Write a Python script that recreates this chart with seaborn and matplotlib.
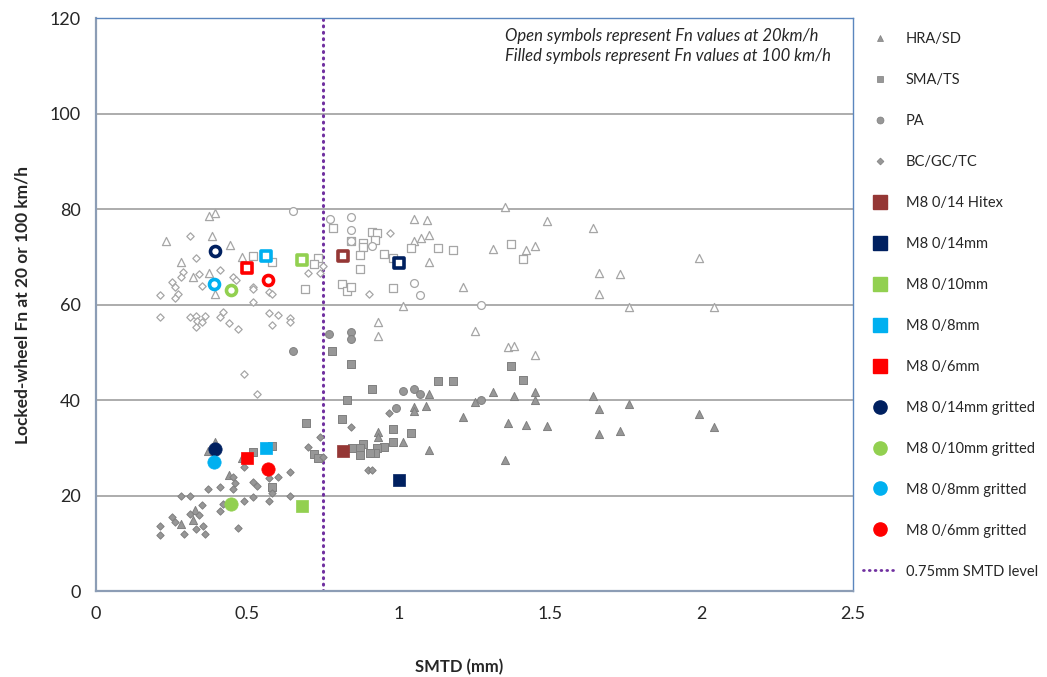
import matplotlib
matplotlib.use("Agg")
import matplotlib.pyplot as plt
from matplotlib.lines import Line2D
import seaborn as sns
import pandas as pd

# gray reference surfaces, open = 20 km/h, filled = 100 km/h
hra_open_x = [0.393, 0.372, 0.382, 0.231, 0.441, 0.481, 0.282, 0.321, 0.372, 0.393,
              1.051, 1.092, 1.101, 1.072, 1.051, 1.101, 1.013, 0.931, 0.931,
              1.352, 1.490, 1.640, 1.311, 1.421, 1.451, 1.211, 1.661, 1.732, 1.661,
              1.760, 1.990, 2.041, 1.250, 1.361, 1.380, 1.451]
hra_open_y = [79.2, 78.5, 74.4, 73.2, 72.5, 70.0, 68.8, 65.7, 66.5, 62.3,
              78.0, 77.8, 74.6, 73.9, 73.3, 69.0, 59.7, 56.4, 53.5,
              80.4, 77.5, 76.0, 71.6, 71.4, 72.3, 63.7, 66.5, 66.4, 62.2,
              59.5, 69.8, 59.5, 54.5, 51.2, 51.4, 49.4]
hra_fill_x = [0.393, 0.371, 0.481, 0.440, 0.327, 0.321, 0.280,
              1.101, 1.090, 1.051, 1.051, 0.931, 0.931, 1.013, 1.101,
              1.311, 1.381, 1.451, 1.451, 1.250, 1.640, 1.661, 1.760, 1.211,
              1.361, 1.421, 1.491, 1.661, 1.731, 1.990, 2.041, 1.352]
hra_fill_y = [31.3, 29.4, 27.8, 24.3, 17.0, 14.9, 14.0,
              41.3, 38.7, 38.5, 37.6, 33.4, 32.2, 31.3, 29.5,
              41.7, 40.8, 41.7, 40.0, 39.6, 40.8, 38.1, 39.2, 36.5,
              35.1, 34.8, 34.6, 32.9, 33.5, 37.0, 34.4, 27.4]

sma_open_x = [0.520, 0.581, 0.568, 0.690, 0.732, 0.721, 0.782, 0.811, 0.830, 0.841,
              0.910, 0.929, 0.921, 0.841, 0.881, 0.881, 0.872, 0.952, 0.980, 1.040,
              1.131, 1.180, 0.872, 0.980, 1.371, 1.409]
sma_open_y = [70.2, 68.8, 65.0, 63.2, 69.8, 68.4, 76.1, 64.3, 62.9, 63.7,
              75.2, 74.9, 73.5, 73.2, 72.9, 72.0, 70.4, 70.5, 69.7, 71.8,
              71.9, 71.4, 67.4, 63.4, 72.6, 69.5]
sma_fill_x = [0.520, 0.582, 0.582, 0.692, 0.721, 0.732, 0.781, 0.811, 0.828, 0.841,
              1.131, 1.180, 0.913, 0.980, 1.040, 0.980, 0.952, 0.929, 0.921, 0.905,
              0.881, 0.872, 0.872, 0.844, 1.371, 1.411]
sma_fill_y = [29.2, 30.4, 21.7, 35.1, 28.7, 27.8, 50.3, 36.0, 39.9, 47.5,
              44.0, 44.0, 42.4, 33.9, 33.0, 31.3, 30.1, 29.9, 29.0, 29.0,
              30.8, 29.9, 28.5, 29.9, 47.1, 44.2]

pa_open_x = [0.651, 0.773, 0.841, 0.841, 0.841, 0.910, 1.051, 1.070, 1.271]
pa_open_y = [79.6, 78.0, 78.4, 75.6, 73.2, 72.3, 64.6, 61.9, 60.0]
pa_fill_x = [0.651, 0.771, 0.841, 0.841, 1.013, 1.051, 1.070, 0.991, 1.271]
pa_fill_y = [50.3, 53.8, 54.3, 52.8, 41.9, 42.4, 41.3, 38.4, 40.0]

bc_open_x = [0.310, 0.330, 0.410, 0.288, 0.280, 0.341, 0.251, 0.261, 0.350, 0.272,
             0.260, 0.211, 0.451, 0.462, 0.520, 0.520, 0.520, 0.570, 0.581, 0.211,
             0.310, 0.330, 0.333, 0.360, 0.349, 0.330, 0.410, 0.420, 0.440, 0.470,
             0.570, 0.600, 0.581, 0.641, 0.641, 0.490, 0.531, 0.701, 0.740, 0.751,
             0.970, 0.901]
bc_open_y = [74.4, 69.8, 67.2, 66.9, 65.7, 66.4, 64.8, 63.7, 63.9, 62.2,
             61.3, 62.0, 65.7, 65.1, 63.7, 63.2, 60.6, 62.7, 62.3, 57.4,
             57.3, 57.6, 56.6, 57.6, 56.4, 55.2, 57.4, 58.5, 56.2, 54.8,
             58.2, 57.7, 55.7, 57.1, 56.4, 45.4, 41.3, 66.7, 66.7, 68.1,
             75.0, 62.3]
bc_fill_x = [0.969, 0.841, 0.740, 0.700, 0.751, 0.899, 0.910, 0.641, 0.490, 0.570,
             0.600, 0.520, 0.531, 0.451, 0.459, 0.451, 0.410, 0.371, 0.281, 0.310,
             0.350, 0.418, 0.410, 0.490, 0.520, 0.570, 0.581, 0.641, 0.251, 0.261,
             0.310, 0.341, 0.211, 0.211, 0.291, 0.330, 0.352, 0.361, 0.470]
bc_fill_y = [37.3, 34.3, 32.2, 30.1, 28.0, 25.3, 25.3, 25.0, 25.9, 23.6,
             23.8, 22.9, 22.0, 23.8, 22.6, 21.3, 21.7, 21.3, 19.9, 20.0,
             18.0, 18.2, 16.8, 18.9, 19.6, 18.9, 20.5, 19.9, 15.6, 14.5,
             16.1, 15.9, 13.7, 11.7, 11.9, 13.0, 13.7, 11.9, 13.3]

# M8 test sections: smtd, Fn at 20 km/h, Fn at 100 km/h
m8_names = ["M8 0/14 Hitex", "M8 0/14mm", "M8 0/10mm", "M8 0/8mm", "M8 0/6mm",
            "M8 0/14mm gritted", "M8 0/10mm gritted", "M8 0/8mm gritted", "M8 0/6mm gritted"]
m8_smtd = [0.817, 1.001, 0.681, 0.560, 0.500, 0.393, 0.446, 0.390, 0.567]
m8_fn20 = [70.2, 68.6, 69.3, 70.2, 67.6, 71.3, 63.0, 64.3, 65.1]
m8_fn100 = [29.3, 23.2, 17.9, 29.9, 27.9, 29.7, 18.2, 27.0, 25.5]
m8_colors = ["#953735", "#002060", "#92D050", "#00B0F0", "#FF0000",
             "#002060", "#92D050", "#00B0F0", "#FF0000"]
m8_markers = ["s", "s", "s", "s", "s", "o", "o", "o", "o"]

threshold = 0.75

sns.set_style("white")
plt.rcParams["font.family"] = ["Lato", "DejaVu Sans"]

fig = plt.figure(figsize=(10.47, 6.77), dpi=100)
ax = fig.add_axes([0.0917, 0.127, 0.7230, 0.8464])

grey_edge = "#A6A6A6"
grey_face = "#979797"
grey_fedge = "#7F7F7F"
purple = "#7030A0"
dots = (0, (0.3, 1.8))

groups = [
    (hra_open_x, hra_open_y, hra_fill_x, hra_fill_y, "^", 34),
    (sma_open_x, sma_open_y, sma_fill_x, sma_fill_y, "s", 30),
    (pa_open_x, pa_open_y, pa_fill_x, pa_fill_y, "o", 32),
    (bc_open_x, bc_open_y, bc_fill_x, bc_fill_y, "D", 14),
]
for ox, oy, fx, fy, mk, sz in groups:
    d_open = pd.DataFrame({"smtd": ox, "fn": oy})
    d_fill = pd.DataFrame({"smtd": fx, "fn": fy})
    sns.scatterplot(data=d_open, x="smtd", y="fn", ax=ax, marker=mk, s=sz,
                    facecolor="white", edgecolor=grey_edge, linewidth=0.9, zorder=3)
    sns.scatterplot(data=d_fill, x="smtd", y="fn", ax=ax, marker=mk, s=sz,
                    facecolor=grey_face, edgecolor=grey_fedge, linewidth=0.7, zorder=3)

m8 = pd.DataFrame({"name": m8_names, "smtd": m8_smtd, "fn20": m8_fn20,
                   "fn100": m8_fn100, "color": m8_colors, "marker": m8_markers})
for _, r in m8.iterrows():
    big = 82 if r.marker == "s" else 92
    sns.scatterplot(x=[r.smtd], y=[r.fn20], ax=ax, marker=r.marker, s=52,
                    facecolor="white", edgecolor=r.color, linewidth=2.6, zorder=4)
    sns.scatterplot(x=[r.smtd], y=[r.fn100], ax=ax, marker=r.marker, s=big,
                    facecolor=r.color, edgecolor=r.color, linewidth=0.5, zorder=4)

ax.axvline(threshold, color=purple, linestyle=dots, linewidth=2.2,
           dash_capstyle="round", zorder=2)

ax.set_xlim(0, 2.5)
ax.set_ylim(0, 120)
ax.set_xticks([0, 0.5, 1, 1.5, 2, 2.5])
ax.set_xticklabels(["0", "0.5", "1", "1.5", "2", "2.5"])
ax.set_yticks(range(0, 121, 20))
ax.yaxis.grid(True, color="#A6A6A6", linewidth=1.3)
ax.xaxis.grid(False)
ax.set_axisbelow(True)
ax.tick_params(axis="both", labelsize=13, direction="out", length=5, width=1,
               color="#8C9DB5", pad=6)
for side in ["left", "bottom"]:
    ax.spines[side].set_color("#8C9DB5")
    ax.spines[side].set_linewidth(1.6)
for side in ["top", "right"]:
    ax.spines[side].set_color("#5B86BE")
    ax.spines[side].set_linewidth(1.0)

ax.set_xlabel("SMTD (mm)", fontsize=12, fontweight="bold")
ax.xaxis.set_label_coords(0.48, -0.118)
ax.set_ylabel("Locked-wheel Fn at 20 or 100 km/h", fontsize=12.5, fontweight="bold", labelpad=14)

ax.text(0.540, 0.983, "Open symbols represent Fn values at 20km/h\n"
        "Filled symbols represent Fn values at 100 km/h",
        transform=ax.transAxes, ha="left", va="top", fontsize=12, style="italic",
        linespacing=1.35)

handles = [
    Line2D([], [], ls="none", marker="^", ms=5, mfc=grey_face, mec=grey_fedge, mew=0.5),
    Line2D([], [], ls="none", marker="s", ms=5, mfc=grey_face, mec=grey_fedge, mew=0.5),
    Line2D([], [], ls="none", marker="o", ms=5, mfc=grey_face, mec=grey_fedge, mew=0.5),
    Line2D([], [], ls="none", marker="D", ms=3.5, mfc=grey_face, mec=grey_fedge, mew=0.5),
]
labels = ["HRA/SD", "SMA/TS", "PA", "BC/GC/TC"]
for name, col, mk in zip(m8_names, m8_colors, m8_markers):
    handles.append(Line2D([], [], ls="none", marker=mk, ms=9.5, mfc=col, mec=col))
    labels.append(name)
handles.append(Line2D([], [], color=purple, linestyle=dots, lw=2.0,
                      dash_capstyle="round"))
labels.append("0.75mm SMTD level")

fig.legend(handles, labels, loc="upper left", bbox_to_anchor=(0.824, 0.953),
           frameon=False, fontsize=10.5, labelspacing=1.85, handlelength=2.4,
           handletextpad=0.55, borderpad=0, borderaxespad=0)

fig.savefig("out.png", dpi=100)
